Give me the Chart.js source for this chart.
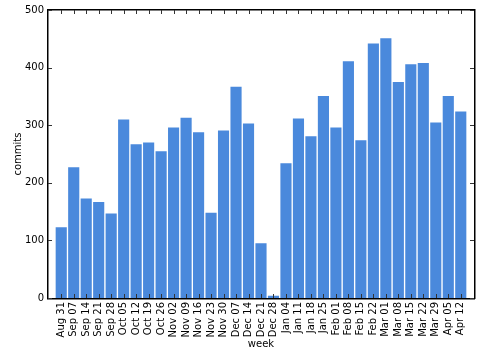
<!DOCTYPE html>
<html>
<head>
<meta charset="utf-8">
<script src="https://cdn.jsdelivr.net/npm/chart.js@4"></script>
<style>
  html, body { margin: 0; padding: 0; background: #fff; }
  #wrap { width: 480px; height: 360px; }
</style>
</head>
<body>
<div id="wrap"><canvas id="chart"></canvas></div>
<script>
const weeks = ['Aug 31', 'Sep 07', 'Sep 14', 'Sep 21', 'Sep 28', 'Oct 05', 'Oct 12', 'Oct 19', 'Oct 26',
    'Nov 02', 'Nov 09', 'Nov 16', 'Nov 23', 'Nov 30', 'Dec 07', 'Dec 14', 'Dec 21', 'Dec 28',
    'Jan 04', 'Jan 11', 'Jan 18', 'Jan 25', 'Feb 01', 'Feb 08', 'Feb 15', 'Feb 22',
    'Mar 01', 'Mar 08', 'Mar 15', 'Mar 22', 'Mar 29', 'Apr 05', 'Apr 12'];
const commits = [124, 228, 174, 168, 148, 311, 268, 271, 256,
    297, 314, 289, 149, 292, 368, 304, 96, 5,
    235, 313, 282, 352, 297, 412, 275, 443,
    452, 376, 407, 409, 306, 352, 325];
const yTicks = [0, 100, 200, 300, 400, 500];

const font = { family: 'DejaVu Sans', size: 10 };

// cadre + petits ticks vers l'intérieur, façon matplotlib
const framePlugin = {
    id: 'frame',
    afterDraw(chart) {
        const ctx = chart.ctx;
        const a = chart.chartArea;
        const xs = chart.scales.x, ys = chart.scales.y;
        const L = Math.round(a.left), R = Math.round(a.right);
        const T = Math.round(a.top), B = Math.round(a.bottom);
        ctx.save();
        ctx.fillStyle = '#000000';
        ctx.fillRect(L - 1, T - 1, R - L + 2, 1.5);
        ctx.fillRect(L - 1, B, R - L + 2, 1.5);
        ctx.fillRect(L - 1, T - 1, 1.5, B - T + 2);
        ctx.fillRect(R, T - 1, 1.5, B - T + 2);
        ctx.fillStyle = '#333333';
        yTicks.forEach(v => {
            const py = Math.round(ys.getPixelForValue(v));
            ctx.fillRect(L, py, 4, 1);
            ctx.fillRect(R - 4, py, 4, 1);
        });
        weeks.forEach((w, i) => {
            const px = Math.round(xs.getPixelForValue(i));
            ctx.fillRect(px, T, 1, 4);
            ctx.fillRect(px, B - 4, 1, 4);
        });
        ctx.restore();
    }
};

new Chart(document.getElementById('chart'), {
    type: 'bar',
    data: {
        datasets: [{
            label: 'commits',
            data: commits.map((c, i) => ({ x: i, y: c })),
            backgroundColor: '#4a89dc',
            borderColor: '#ffffff',
            borderWidth: { left: 1, right: 1, top: 1, bottom: 0 },
            categoryPercentage: 1.0,
            barPercentage: 1.0
        }]
    },
    options: {
        responsive: true,
        maintainAspectRatio: false,
        animation: false,
        layout: { padding: { top: 7, right: 6, left: 0, bottom: 0 } },
        plugins: {
            legend: { display: false },
            tooltip: { enabled: false }
        },
        scales: {
            x: {
                type: 'linear',
                offset: false,
                min: -1.06,
                max: 33.06,
                grid: { display: false, drawTicks: false },
                border: { display: false },
                afterBuildTicks: scale => {
                    scale.ticks = weeks.map((w, i) => ({ value: i }));
                },
                afterFit: scale => { scale.height = 62; },
                ticks: {
                    autoSkip: false,
                    minRotation: 90,
                    maxRotation: 90,
                    padding: 4,
                    color: '#000',
                    font: font,
                    callback: v => weeks[v]
                },
                title: {
                    display: true,
                    text: 'week',
                    color: '#000',
                    font: font,
                    padding: { top: 0, bottom: 10 }
                }
            },
            y: {
                min: 0,
                max: 500,
                grid: { display: false, drawTicks: false },
                border: { display: false },
                afterBuildTicks: scale => {
                    scale.ticks = yTicks.map(v => ({ value: v }));
                },
                afterFit: scale => { scale.width = 48; },
                ticks: {
                    padding: 4,
                    color: '#000',
                    font: font
                },
                title: {
                    display: true,
                    text: 'commits',
                    color: '#000',
                    font: font,
                    padding: { top: 12, bottom: 0 }
                }
            }
        }
    },
    plugins: [framePlugin]
});
</script>
</body>
</html>
